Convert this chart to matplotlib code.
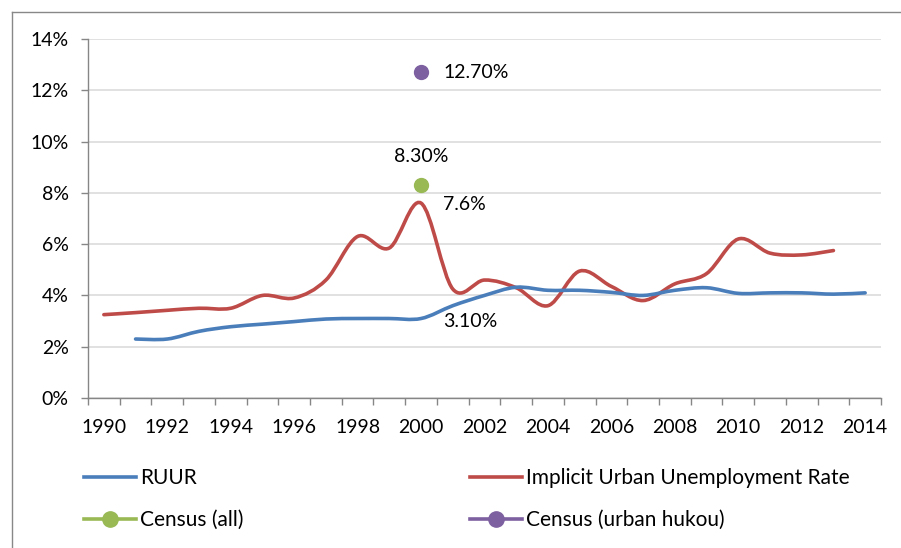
import numpy as np
import matplotlib
matplotlib.use("Agg")
import matplotlib.pyplot as plt
from matplotlib.path import Path
from matplotlib.patches import PathPatch
from matplotlib.lines import Line2D
from matplotlib.ticker import PercentFormatter, FixedLocator

plt.rcParams['font.family'] = ['Lato', 'DejaVu Sans']

# data (percent)
years = list(range(1990, 2015))
iur_years = list(range(1990, 2014))
iur = [3.25, 3.33, 3.42, 3.5, 3.5, 4.0, 3.9, 4.6, 6.3, 5.85, 7.6, 4.25, 4.6, 4.3,
       3.6, 4.95, 4.35, 3.8, 4.45, 4.85, 6.2, 5.65, 5.58, 5.75]
ruur_years = list(range(1991, 2015))
ruur = [2.3, 2.3, 2.6, 2.78, 2.88, 2.98, 3.08, 3.1, 3.1, 3.1, 3.6, 4.0, 4.32,
        4.2, 4.2, 4.12, 4.0, 4.2, 4.3, 4.08, 4.1, 4.1, 4.05, 4.1]
census_year = 2000
census_all = 8.3
census_hukou = 12.7

BLUE = '#4A7EBB'
RED = '#BE4B48'
GREEN = '#98B954'
PURPLE = '#7D60A0'

W, H = 901, 548


def smooth_path(xs, ys):
    # Excel-style smoothed line: Catmull-Rom converted to cubic bezier
    p = np.column_stack([xs, ys]).astype(float)
    pts = np.vstack([p[0], p, p[-1]])
    verts = [p[0]]
    codes = [Path.MOVETO]
    for i in range(1, len(pts) - 2):
        c1 = pts[i] + (pts[i + 1] - pts[i - 1]) / 6.0
        c2 = pts[i + 1] - (pts[i + 2] - pts[i]) / 6.0
        verts += [c1, c2, pts[i + 1]]
        codes += [Path.CURVE4] * 3
    return Path(verts, codes)


fig = plt.figure(figsize=(W / 100, H / 100), dpi=100)
ax = fig.add_axes([88 / W, 1 - 398 / H, (881 - 88) / W, (398 - 39) / H])

xi = lambda yrs: [years.index(y) for y in yrs]

ax.add_patch(PathPatch(smooth_path(xi(iur_years), iur), fill=False,
                       edgecolor=RED, lw=2.6, capstyle='round', zorder=3))
ax.add_patch(PathPatch(smooth_path(xi(ruur_years), ruur), fill=False,
                       edgecolor=BLUE, lw=2.6, capstyle='round', zorder=3))

cx = years.index(census_year)
ax.plot([cx], [census_all], 'o', color=GREEN, ms=10, zorder=4)
ax.plot([cx], [census_hukou], 'o', color=PURPLE, ms=10, zorder=4)

fs = 14
ax.annotate('12.70%', (cx, census_hukou), xytext=(22, 0), textcoords='offset pixels',
            ha='left', va='center', fontsize=fs)
ax.annotate('8.30%', (cx, census_all), xytext=(0, 29), textcoords='offset pixels',
            ha='center', va='center', fontsize=fs)
ax.annotate('7.6%', (cx, iur[iur_years.index(2000)]), xytext=(22, -1),
            textcoords='offset pixels', ha='left', va='center', fontsize=fs)
ax.annotate('3.10%', (cx, ruur[ruur_years.index(2000)]), xytext=(22, -3),
            textcoords='offset pixels', ha='left', va='center', fontsize=fs)

ax.set_xlim(-0.5, len(years) - 0.5)
ax.set_ylim(0, 14)
ax.set_yticks(np.arange(0, 15, 2))
ax.yaxis.set_major_formatter(PercentFormatter(100, decimals=0))
ax.grid(axis='y', color='#d9d9d9', lw=1.1)
ax.set_axisbelow(True)

ax.xaxis.set_major_locator(FixedLocator(np.arange(-0.5, len(years), 1)))
ax.xaxis.set_minor_locator(FixedLocator(range(0, len(years), 2)))
ax.set_xticklabels([])
ax.set_xticklabels([str(y) for y in years[::2]], minor=True)
ax.tick_params(axis='x', which='major', length=5, width=1, color='#868686')
ax.tick_params(axis='x', which='minor', length=0, pad=15, labelsize=fs)
ax.tick_params(axis='y', length=5, width=1, color='#868686', pad=9, labelsize=fs)

for s in ['top', 'right']:
    ax.spines[s].set_visible(False)
for s in ['left', 'bottom']:
    ax.spines[s].set_color('#868686')
    ax.spines[s].set_linewidth(1)

# chart area border (left and top visible)
fig.add_artist(Line2D([11.5 / W, 11.5 / W], [0, 1 - 11.5 / H], color='#888888', lw=1))
fig.add_artist(Line2D([11.5 / W, 1], [1 - 11.5 / H, 1 - 11.5 / H], color='#888888', lw=1))

entries = [
    (Line2D([], [], color=BLUE, lw=2.6), 'RUUR', 84, 478),
    (Line2D([], [], color=RED, lw=2.6), 'Implicit Urban Unemployment Rate', 470, 478),
    (Line2D([], [], color=GREEN, lw=2.6, marker='o', ms=11), 'Census (all)', 84, 520),
    (Line2D([], [], color=PURPLE, lw=2.6, marker='o', ms=11), 'Census (urban hukou)', 470, 520),
]
for h, lab, x, y in entries:
    fig.legend(handles=[h], labels=[lab], loc='center left',
               bbox_to_anchor=(x / W, 1 - y / H), frameon=False, borderpad=0,
               borderaxespad=0, handlelength=2.5, handletextpad=0.2,
               fontsize=15, numpoints=1)

fig.savefig('out.png', dpi=100, facecolor='white')
